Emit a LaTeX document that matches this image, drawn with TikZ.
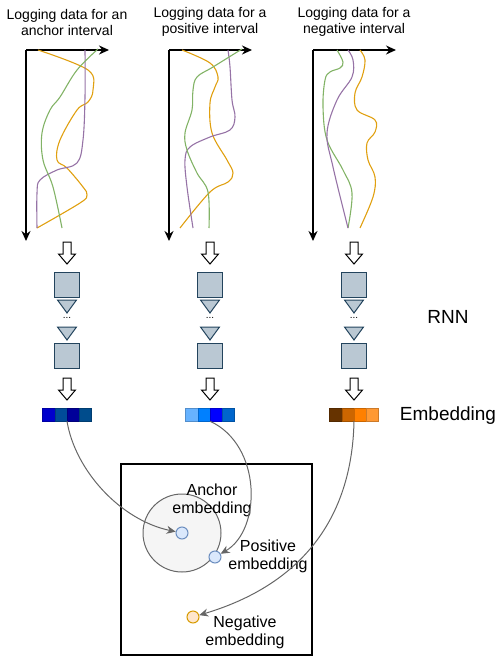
\documentclass[tikz,border=0pt]{standalone}
\usepackage{fontspec}
\setmainfont{Liberation Sans}
\usetikzlibrary{arrows.meta,positioning,calc}
\usepackage{xcolor}
\definecolor{rnnfill}{HTML}{BAC8D3}
\definecolor{rnnline}{HTML}{23445D}
\definecolor{curveorange}{HTML}{E0A010}
\definecolor{curvepurple}{HTML}{9673A6}
\definecolor{curvegreen}{HTML}{82B366}
\definecolor{linkgray}{HTML}{666666}
\definecolor{spacefill}{HTML}{F5F5F5}
\definecolor{dotblue}{HTML}{DAE8FC}
\definecolor{dotblueline}{HTML}{6C8EBF}
\definecolor{dotorange}{HTML}{FFE6CC}
\definecolor{dotorangeline}{HTML}{D79B00}
\definecolor{ea1}{RGB}{0,0,204}
\definecolor{ea2}{RGB}{0,76,153}
\definecolor{ea3}{RGB}{0,0,153}
\definecolor{ea4}{RGB}{0,76,140}
\definecolor{ep1}{RGB}{102,178,255}
\definecolor{ep2}{RGB}{0,128,255}
\definecolor{ep3}{RGB}{0,0,255}
\definecolor{ep4}{RGB}{0,102,204}
\definecolor{en1}{RGB}{102,51,0}
\definecolor{en2}{RGB}{204,102,0}
\definecolor{en3}{RGB}{255,128,0}
\definecolor{en4}{RGB}{255,153,51}

\begin{document}
\begin{tikzpicture}[x=1pt, y=-1pt,
    title/.style={align=center, font=\fontsize{14}{16}\selectfont},
    label/.style={align=center, font=\fontsize{16}{18}\selectfont},
    biglabel/.style={font=\fontsize{19}{21}\selectfont},
    axis/.style={line width=1.5pt, -{Stealth[length=10pt,width=9pt]}},
    series/.style={line width=1.1pt, smooth, tension=0.6},
    rnncell/.style={draw=rnnline, fill=rnnfill, line width=1pt},
    link/.style={draw=linkgray, line width=1pt, -{Stealth[length=9pt,width=8pt]}},
    hollowarrow/.pic={\draw[fill=white, line width=1pt] (-4,0) -- (4,0) -- (4,12) -- (8.5,12) -- (0,22) -- (-8.5,12) -- (-4,12) -- cycle;}]
    \useasboundingbox (0,0) rectangle (498,658);

    % titles
    \node[title] (atitle) at (67,22) {Logging data for an\\anchor interval};
    \node[title] (ptitle) at (210,22) {Logging data for a\\positive interval};
    \node[title] (ntitle) at (354,22) {Logging data for a\\negative interval};

    % axes
    \foreach \c in {67,210,354} {
        \draw[axis] (\c-41,50) -- (\c-41,241);
        \draw[axis] (\c-41,50) -- (\c+42,50);
    }

    % anchor series
    \draw[series, curveorange] plot coordinates {(38,50) (88,70) (93,90) (88,102) (77,110) (60,140) (57,160) (67,168) (83,187) (87,195) (80,203) (37,228)};
    \draw[series, curvepurple] plot coordinates {(85,50) (85,97) (83,140) (77,163) (57,170) (40,180) (37,193) (37,228)};
    \draw[series, curvegreen] plot coordinates {(98,49) (77,70) (60,97) (50,110) (42,133) (43,160) (53,187) (62,228)};

    % positive series
    \draw[series, curveorange] plot coordinates {(182,50) (210,63) (218,77) (215,87) (210,103) (212,133) (227,160) (233,173) (228,182) (210,192) (180,228)};
    \draw[series, curvepurple] plot coordinates {(228,50) (230,67) (232,100) (235,117) (230,130) (210,137) (190,147) (185,160) (187,187) (193,228)};
    \draw[series, curvegreen] plot coordinates {(242,49) (213,67) (197,77) (193,90) (192,110) (185,133) (187,150) (197,173) (208,192) (209,228)};

    % negative series
    \draw[series, curvegreen] plot coordinates {(337,50) (343,62) (340,68) (330,72) (325,80) (323,107) (327,140) (343,170) (352,193) (348,228)};
    \draw[series, curvepurple] plot coordinates {(348,50) (353,60) (352,77) (337,100) (327,133) (333,167) (348,228)};
    \draw[series, curveorange] plot coordinates {(360,50) (365,60) (362,77) (355,93) (357,110) (375,120) (375,132) (367,143) (368,160) (375,177) (373,197) (360,228)};

    % rnn stacks and embeddings
    \foreach \c/\n in {67/a,210/p,354/n} {
        \pic at (\c,242) {hollowarrow};
        \node[rnncell, minimum size=25pt, inner sep=0] (\n first) at (\c,284.5) {};
        \draw[rnncell] (\c-9.5,300) -- (\c+9.5,300) -- (\c,313) -- cycle;
        \node[font=\fontsize{10}{10}\selectfont, inner sep=0] (\n dots) at (\c,318) {...};
        \draw[rnncell] (\c-9.5,327) -- (\c+9.5,327) -- (\c,340) -- cycle;
        \node[rnncell, minimum size=25pt, inner sep=0] (\n last) at (\c,356) {};
        \pic at (\c,378) {hollowarrow};
        \foreach \k in {1,2,3,4} {
            \fill[e\n\k, draw=e\n\k!80!black, line width=0.4pt] (\c-24.5+12.25*\k-12.25,408) rectangle ++(12.25,13);
        }
        \node[minimum width=49pt, minimum height=13pt, inner sep=0] (\n emb) at (\c,414.5) {};
    }

    \node[biglabel] (rnnlabel) at (448,317) {RNN};
    \node[biglabel] (emblabel) at (448,416) {Embedding};

    % embedding space
    \draw[line width=1.1pt] (121,464) rectangle (312,655);
    \node[circle, draw=linkgray, fill=spacefill, line width=1pt, minimum size=78pt, inner sep=0] (ball) at (182,533) {};
    \node[circle, draw=dotblueline, fill=dotblue, line width=1pt, minimum size=12pt, inner sep=0] (adot) at (182,533) {};
    \node[circle, draw=dotblueline, fill=dotblue, line width=1pt, minimum size=12pt, inner sep=0] (pdot) at (215,557) {};
    \node[circle, draw=dotorangeline, fill=dotorange, line width=1pt, minimum size=12pt, inner sep=0] (ndot) at (193,617) {};

    \node[label] (alabel) at (212,500) {Anchor\\embedding};
    \node[label] (plabel) at (268,556.5) {Positive\\embedding};
    \node[label] (nlabel) at (245,632) {Negative\\embedding};

    \draw[link] (aemb.south) .. controls (75,470) and (120,520) .. (adot);
    \draw[link] (pemb.south) .. controls (262,445) and (262,530) .. (pdot);
    \draw[link] (nemb.south) .. controls (352,520) and (300,585) .. (ndot);
\end{tikzpicture}
\end{document}
